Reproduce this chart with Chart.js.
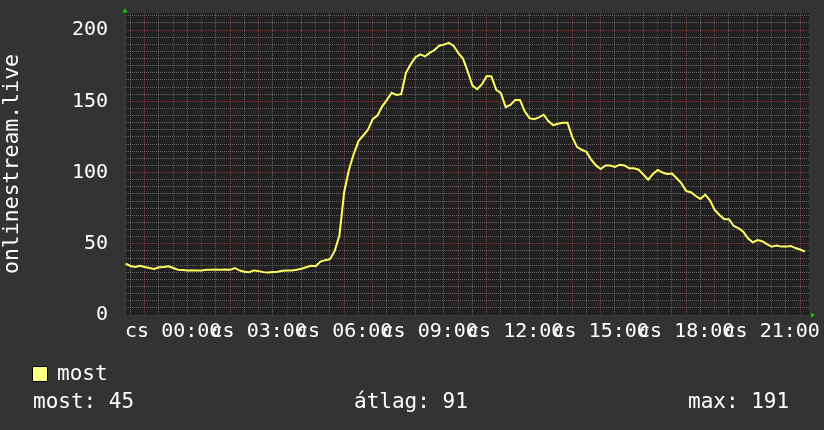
<!DOCTYPE html>
<html>
<head>
<meta charset="utf-8">
<script src="https://cdn.jsdelivr.net/npm/chart.js@4.4.1/dist/chart.umd.min.js"></script>
<style>
  html, body { margin: 0; padding: 0; background: #333333; }
  #wrap { position: relative; width: 824px; height: 430px; overflow: hidden; }
  #chart { position: absolute; left: 0; top: 0; }
  .leg { position: absolute; color: #ffffff; font-family: 'DejaVu Sans Mono', monospace; font-size: 21px; line-height: 24px; white-space: pre; }
  .box { position: absolute; left: 32px; top: 366px; width: 14px; height: 14px; background: #ffff80; border: 1px solid #000000; }
</style>
</head>
<body>
<div id="wrap">
  <canvas id="chart" width="824" height="430" style="width:824px;height:430px"></canvas>
  <div class="box"></div>
  <div class="leg" id="legName" style="left:57px;top:361px;"></div>
  <div class="leg" id="stat0" style="left:33px;top:389px;"></div>
  <div class="leg" id="stat1" style="left:354px;top:389px;"></div>
  <div class="leg" id="stat2" style="left:688px;top:389px;"></div>
</div>
<script>
// ============ DATA ============
// minutes relative to cs 00:00, one sample every 10 minutes
var startMinute = -100;
var stepMinutes = 10;
var values = [
  36, 34.4, 33.7, 34.6, 33.7, 33, 32.3, 33.5, 33.7, 34.2,
  33, 31.8, 31.6, 31.3, 31.4, 31.2, 31.3, 31.7, 31.8, 32,
  31.7, 32, 31.7, 33, 31.2, 30.3, 30, 31.3, 30.8, 30.1,
  29.8, 30.2, 30.3, 31, 31.2, 31.2, 31.8, 32.5, 33.5, 34.5,
  34.2, 37.5, 38.5, 39.2, 45, 56, 86.5, 102, 113, 122,
  126, 130, 137.5, 140, 146.5, 151, 156, 154.5, 155, 170,
  176, 181, 183, 181.5, 184, 186, 189, 189.8, 191, 189,
  184, 180, 171, 161, 158.5, 162, 167.7, 167.5, 158, 155.7,
  146, 147.5, 151, 151, 143, 138.2, 137.5, 138.7, 140.6, 136,
  133.3, 134.2, 135, 135, 125, 118, 116, 114.5, 109, 105,
  102.5, 105, 105, 104, 105.5, 105, 103, 103, 102, 98.5,
  95, 99, 101.8, 100, 99, 99.3, 96, 92.4, 87, 86.2,
  83.5, 81.5, 84.5, 80.5, 73.7, 70.2, 67.3, 67.3, 62.5, 61,
  58.5, 53.8, 51, 52.6, 51.8, 49.8, 47.9, 48.8, 48, 48,
  48.5, 47, 46, 44.5
];
var seriesName = 'most';
var axisTitle = 'onlinestream.live';
var xMin = -101.5, xMax = 1338.5;
var xLabelMinutes = [0, 180, 360, 540, 720, 900, 1080, 1260];
var xLabels = ['cs 00:00', 'cs 03:00', 'cs 06:00', 'cs 09:00', 'cs 12:00', 'cs 15:00', 'cs 18:00', 'cs 21:00'];
var yMax = 212;
var yLabelValues = [0, 50, 100, 150, 200];
var stats = ['most: 45', 'átlag: 91', 'max: 191'];

var FONT = "'DejaVu Sans Mono', monospace";
var GRID_GRAY = 'rgba(130,130,130,0.7)';
var GRID_RED = 'rgba(165,75,75,0.65)';

document.getElementById('legName').textContent = seriesName;
stats.forEach(function(s, i) { document.getElementById('stat' + i).textContent = s; });

var points = values.map(function(v, i) { return { x: startMinute + i * stepMinutes, y: v }; });

// plot background + green axis arrows
var rrdDecor = {
  id: 'rrdDecor',
  beforeDraw: function(chart) {
    var a = chart.chartArea, c = chart.ctx;
    c.save();
    c.fillStyle = '#212121';
    c.fillRect(a.left, a.top, a.right - a.left, a.bottom - a.top);
    c.restore();
  },
  afterDraw: function(chart) {
    var a = chart.chartArea, c = chart.ctx;
    c.save();
    c.fillStyle = '#00cc00';
    c.beginPath();
    c.moveTo(a.left, a.top - 5);
    c.lineTo(a.left - 2.5, a.top - 0.5);
    c.lineTo(a.left + 2.5, a.top - 0.5);
    c.closePath();
    c.fill();
    c.beginPath();
    c.moveTo(a.right + 6, a.bottom);
    c.lineTo(a.right + 2, a.bottom - 2.5);
    c.lineTo(a.right + 2, a.bottom + 2.5);
    c.closePath();
    c.fill();
    c.restore();
  }
};

new Chart(document.getElementById('chart'), {
  type: 'line',
  data: {
    datasets: [{
      label: seriesName,
      data: points,
      borderColor: '#ffff66',
      borderWidth: 2,
      pointRadius: 0,
      tension: 0,
      fill: false
    }]
  },
  options: {
    responsive: false,
    animation: false,
    layout: { padding: { top: 13, right: 15, left: 0, bottom: 0 } },
    plugins: { legend: { display: false }, tooltip: { enabled: false } },
    scales: {
      x: {
        type: 'linear',
        min: xMin,
        max: xMax,
        afterBuildTicks: function(scale) {
          var t = [];
          for (var m = -90; m <= 1320; m += 30) t.push({ value: m });
          scale.ticks = t;
        },
        afterFit: function(scale) {
          scale.height = 115;
          scale.paddingLeft = 0;
          scale.paddingRight = 0;
        },
        grid: {
          drawTicks: false,
          lineWidth: 1,
          color: function(ctx) {
            var v = ctx.tick ? ctx.tick.value : 0;
            return v % 60 === 0 ? GRID_RED : GRID_GRAY;
          }
        },
        border: { display: true, color: '#3a3a3a', dash: [1, 1] },
        ticks: {
          autoSkip: false,
          maxRotation: 0,
          minRotation: 0,
          padding: 5,
          color: '#ffffff',
          font: { family: FONT, size: 20 },
          callback: function(v) {
            var i = xLabelMinutes.indexOf(v);
            return i >= 0 ? xLabels[i] : '';
          }
        }
      },
      y: {
        min: 0,
        max: yMax,
        afterBuildTicks: function(scale) {
          var t = [];
          for (var v = 0; v <= 210; v += 5) t.push({ value: v });
          scale.ticks = t;
        },
        afterFit: function(scale) {
          scale.width = 125;
          scale.paddingTop = 0;
          scale.paddingBottom = 0;
        },
        grid: {
          drawTicks: false,
          lineWidth: 1,
          color: function(ctx) {
            var v = ctx.tick ? ctx.tick.value : 0;
            return v % 50 === 0 ? GRID_RED : GRID_GRAY;
          }
        },
        border: { display: true, color: '#3a3a3a', dash: [1, 1] },
        ticks: {
          autoSkip: false,
          padding: 17,
          color: '#ffffff',
          font: { family: FONT, size: 20 },
          callback: function(v) { return yLabelValues.indexOf(v) >= 0 ? String(v) : ''; }
        },
        title: {
          display: true,
          text: axisTitle,
          color: '#ffffff',
          font: { family: FONT, size: 21.5 },
          padding: { top: 0, bottom: 0 }
        }
      }
    }
  },
  plugins: [rrdDecor]
});
</script>
</body>
</html>
